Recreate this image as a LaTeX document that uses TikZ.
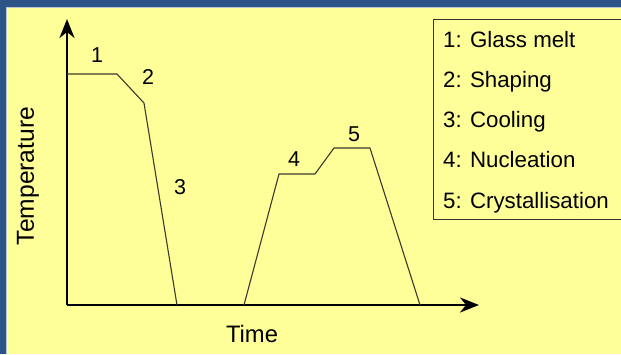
\documentclass[tikz,border=0pt]{standalone}
\usepackage{fontspec}
\setmainfont{Liberation Sans}
\usetikzlibrary{arrows.meta}
\definecolor{bgyellow}{HTML}{FFFF99}
\definecolor{frameblue}{HTML}{2D5486}
\definecolor{framelight}{HTML}{B8C6D8}
\definecolor{curvegray}{HTML}{3A3A2A}
\tikzset{
  axisline/.style={line width=2.6pt, -{Stealth[length=19pt,width=15pt,inset=6pt]}},
  curveline/.style={line width=1.1pt, color=curvegray, line join=round},
  lbl/.style={font=\fontsize{21.5}{25}\selectfont, inner sep=0pt},
  legtext/.style={font=\fontsize{22.3}{26}\selectfont, inner sep=0pt, anchor=base west},
}
\begin{document}
\begin{tikzpicture}[x=1pt,y=-1pt]
\useasboundingbox (0,0) rectangle (621,354);
\fill[bgyellow] (0,0) rectangle (621,354);
\fill[frameblue] (0,0) rectangle (621,7);
\fill[frameblue] (0,0) rectangle (6,354);
\draw[framelight, line width=1pt] (6,7.5) -- (621,7.5);
\draw[framelight, line width=1pt] (6.5,7) -- (6.5,354);

% axes
\coordinate (O) at (67,305);
\coordinate (ytop) at (67,19);
\coordinate (xend) at (479,305);
\draw[axisline] (O) -- (ytop);
\draw[axisline] (O) -- (xend);

% curve
\coordinate (p1) at (67,74);
\coordinate (p2) at (117,74);
\coordinate (p3) at (144,103);
\coordinate (p4) at (177,305);
\coordinate (p5) at (244,305);
\coordinate (p6) at (279,174);
\coordinate (p7) at (315,174);
\coordinate (p8) at (334,148);
\coordinate (p9) at (370,148);
\coordinate (p10) at (420,305);
\draw[curveline] (p1) -- (p2) -- (p3) -- (p4);
\draw[curveline] (p5) -- (p6) -- (p7) -- (p8) -- (p9) -- (p10);

% stage labels
\node[lbl] (l1) at (97,55) {1};
\node[lbl] (l2) at (148,77) {2};
\node[lbl] (l3) at (180,187) {3};
\node[lbl] (l4) at (294,159) {4};
\node[lbl] (l5) at (354,134) {5};

% axis titles
\node[lbl, font=\fontsize{23.8}{28}\selectfont] (time) at (252,334) {Time};
\node[lbl, font=\fontsize{24.6}{28}\selectfont, rotate=90] (temp) at (28,176) {Temperature};

% legend
\draw[line width=1pt, black!80] (433,19) rectangle (625,219);
\node[legtext] (g1) at (443,47) {1: Glass melt};
\node[legtext] (g2) at (443,87) {2: Shaping};
\node[legtext] (g3) at (443,127) {3: Cooling};
\node[legtext] (g4) at (443,167) {4: Nucleation};
\node[legtext] (g5) at (443,208) {5: Crystallisation};
\end{tikzpicture}
\end{document}
